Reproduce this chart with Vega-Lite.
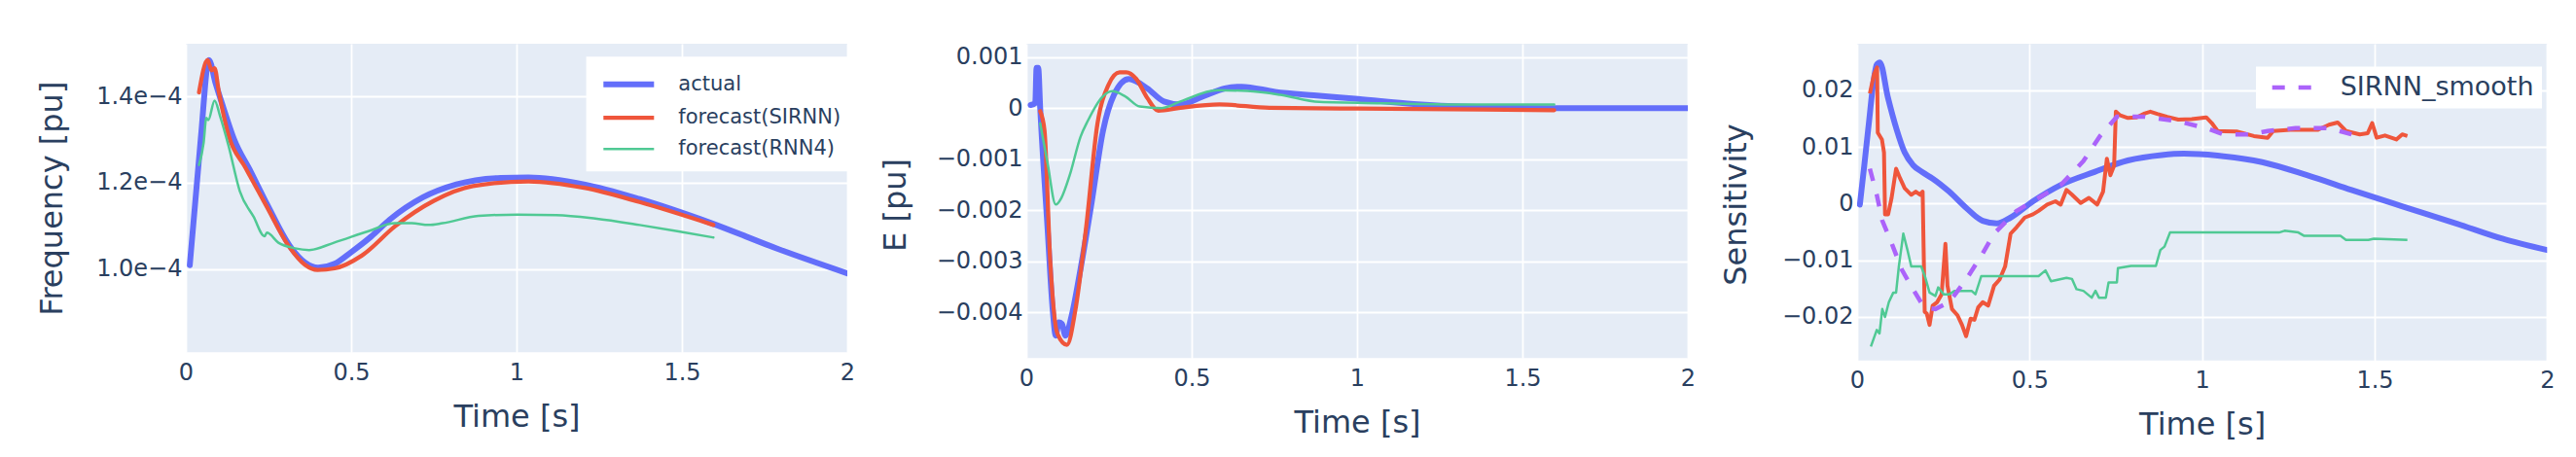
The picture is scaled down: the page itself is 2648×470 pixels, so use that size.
{
  "$schema": "https://vega.github.io/schema/vega-lite/v6.json",
  "padding": {"left": 37, "top": 45, "right": 5, "bottom": 5},
  "spacing": 25,
  "bounds": "full",
  "datasets": {
    "p1": [
      {"t":0.012,"v":1.009e-4,"s":"actual"},{"t":0.045,"v":1.30e-4,"s":"actual"},{"t":0.07,"v":1.484e-4,"s":"actual"},{"t":0.09,"v":1.43e-4,"s":"actual"},{"t":0.113,"v":1.375e-4,"s":"actual"},{"t":0.146,"v":1.30e-4,"s":"actual"},{"t":0.196,"v":1.226e-4,"s":"actual"},{"t":0.247,"v":1.148e-4,"s":"actual"},{"t":0.314,"v":1.054e-4,"s":"actual"},{"t":0.36,"v":1.015e-4,"s":"actual"},{"t":0.4,"v":1.003e-4,"s":"actual"},{"t":0.45,"v":1.012e-4,"s":"actual"},{"t":0.5,"v":1.039e-4,"s":"actual"},{"t":0.56,"v":1.075e-4,"s":"actual"},{"t":0.616,"v":1.114e-4,"s":"actual"},{"t":0.717,"v":1.166e-4,"s":"actual"},{"t":0.818,"v":1.196e-4,"s":"actual"},{"t":0.952,"v":1.211e-4,"s":"actual"},{"t":1.036,"v":1.212e-4,"s":"actual"},{"t":1.204,"v":1.196e-4,"s":"actual"},{"t":1.372,"v":1.162e-4,"s":"actual"},{"t":1.59,"v":1.106e-4,"s":"actual"},{"t":1.792,"v":1.046e-4,"s":"actual"},{"t":2.0,"v":0.99e-4,"s":"actual"},
      {"t":0.04,"v":1.409e-4,"s":"forecast(SIRNN)"},{"t":0.066,"v":1.484e-4,"s":"forecast(SIRNN)"},{"t":0.078,"v":1.46e-4,"s":"forecast(SIRNN)"},{"t":0.087,"v":1.465e-4,"s":"forecast(SIRNN)"},{"t":0.1,"v":1.41e-4,"s":"forecast(SIRNN)"},{"t":0.13,"v":1.308e-4,"s":"forecast(SIRNN)"},{"t":0.18,"v":1.235e-4,"s":"forecast(SIRNN)"},{"t":0.243,"v":1.147e-4,"s":"forecast(SIRNN)"},{"t":0.314,"v":1.05e-4,"s":"forecast(SIRNN)"},{"t":0.36,"v":1.01e-4,"s":"forecast(SIRNN)"},{"t":0.398,"v":0.998e-4,"s":"forecast(SIRNN)"},{"t":0.45,"v":1.0015e-4,"s":"forecast(SIRNN)"},{"t":0.532,"v":1.031e-4,"s":"forecast(SIRNN)"},{"t":0.633,"v":1.099e-4,"s":"forecast(SIRNN)"},{"t":0.75,"v":1.158e-4,"s":"forecast(SIRNN)"},{"t":0.868,"v":1.192e-4,"s":"forecast(SIRNN)"},{"t":1.036,"v":1.203e-4,"s":"forecast(SIRNN)"},{"t":1.204,"v":1.188e-4,"s":"forecast(SIRNN)"},{"t":1.372,"v":1.155e-4,"s":"forecast(SIRNN)"},{"t":1.595,"v":1.102e-4,"s":"forecast(SIRNN)"},
      {"t":0.04,"v":1.241e-4,"s":"forecast(RNN4)"},{"t":0.054,"v":1.293e-4,"s":"forecast(RNN4)"},{"t":0.062,"v":1.35e-4,"s":"forecast(RNN4)"},{"t":0.068,"v":1.345e-4,"s":"forecast(RNN4)"},{"t":0.087,"v":1.39e-4,"s":"forecast(RNN4)"},{"t":0.104,"v":1.353e-4,"s":"forecast(RNN4)"},{"t":0.129,"v":1.286e-4,"s":"forecast(RNN4)"},{"t":0.163,"v":1.181e-4,"s":"forecast(RNN4)"},{"t":0.205,"v":1.121e-4,"s":"forecast(RNN4)"},{"t":0.238,"v":1.076e-4,"s":"forecast(RNN4)"},{"t":0.245,"v":1.084e-4,"s":"forecast(RNN4)"},{"t":0.28,"v":1.061e-4,"s":"forecast(RNN4)"},{"t":0.33,"v":1.048e-4,"s":"forecast(RNN4)"},{"t":0.373,"v":1.044e-4,"s":"forecast(RNN4)"},{"t":0.448,"v":1.061e-4,"s":"forecast(RNN4)"},{"t":0.55,"v":1.087e-4,"s":"forecast(RNN4)"},{"t":0.633,"v":1.106e-4,"s":"forecast(RNN4)"},{"t":0.683,"v":1.106e-4,"s":"forecast(RNN4)"},{"t":0.734,"v":1.102e-4,"s":"forecast(RNN4)"},{"t":0.776,"v":1.106e-4,"s":"forecast(RNN4)"},{"t":0.885,"v":1.123e-4,"s":"forecast(RNN4)"},{"t":1.003,"v":1.126e-4,"s":"forecast(RNN4)"},{"t":1.12,"v":1.125e-4,"s":"forecast(RNN4)"},{"t":1.238,"v":1.117e-4,"s":"forecast(RNN4)"},{"t":1.372,"v":1.102e-4,"s":"forecast(RNN4)"},{"t":1.49,"v":1.087e-4,"s":"forecast(RNN4)"},{"t":1.595,"v":1.073e-4,"s":"forecast(RNN4)"}
    ],
    "p2": [
      {"t":0.013,"v":0.00006,"s":"actual"},{"t":0.027,"v":0.0001,"s":"actual"},{"t":0.031,"v":0.00079,"s":"actual"},{"t":0.036,"v":0.00079,"s":"actual"},{"t":0.042,"v":0.0,"s":"actual"},{"t":0.064,"v":-0.00233,"s":"actual"},{"t":0.08,"v":-0.00397,"s":"actual"},{"t":0.089,"v":-0.00446,"s":"actual"},{"t":0.098,"v":-0.0042,"s":"actual"},{"t":0.108,"v":-0.00423,"s":"actual"},{"t":0.118,"v":-0.00446,"s":"actual"},{"t":0.137,"v":-0.00407,"s":"actual"},{"t":0.164,"v":-0.00315,"s":"actual"},{"t":0.198,"v":-0.00183,"s":"actual"},{"t":0.232,"v":-0.00044,"s":"actual"},{"t":0.265,"v":0.00026,"s":"actual"},{"t":0.31,"v":0.00057,"s":"actual"},{"t":0.366,"v":0.000385,"s":"actual"},{"t":0.416,"v":0.00013,"s":"actual"},{"t":0.466,"v":0.00007,"s":"actual"},{"t":0.534,"v":0.00023,"s":"actual"},{"t":0.6,"v":0.000385,"s":"actual"},{"t":0.651,"v":0.00042,"s":"actual"},{"t":0.752,"v":0.00032,"s":"actual"},{"t":0.869,"v":0.00025,"s":"actual"},{"t":1.003,"v":0.00018,"s":"actual"},{"t":1.171,"v":0.00008,"s":"actual"},{"t":1.339,"v":0.000025,"s":"actual"},{"t":1.59,"v":0.0,"s":"actual"},{"t":2.0,"v":0.0,"s":"actual"},
      {"t":0.042,"v":-0.00006,"s":"forecast(SIRNN)"},{"t":0.055,"v":-0.00044,"s":"forecast(SIRNN)"},{"t":0.072,"v":-0.00296,"s":"forecast(SIRNN)"},{"t":0.094,"v":-0.00442,"s":"forecast(SIRNN)"},{"t":0.123,"v":-0.00464,"s":"forecast(SIRNN)"},{"t":0.148,"v":-0.00397,"s":"forecast(SIRNN)"},{"t":0.181,"v":-0.00233,"s":"forecast(SIRNN)"},{"t":0.215,"v":-0.00031,"s":"forecast(SIRNN)"},{"t":0.248,"v":0.00045,"s":"forecast(SIRNN)"},{"t":0.282,"v":0.0007,"s":"forecast(SIRNN)"},{"t":0.302,"v":0.0007,"s":"forecast(SIRNN)"},{"t":0.332,"v":0.000575,"s":"forecast(SIRNN)"},{"t":0.366,"v":0.000196,"s":"forecast(SIRNN)"},{"t":0.399,"v":-0.00005,"s":"forecast(SIRNN)"},{"t":0.466,"v":0.000006,"s":"forecast(SIRNN)"},{"t":0.584,"v":0.00007,"s":"forecast(SIRNN)"},{"t":0.735,"v":0.000006,"s":"forecast(SIRNN)"},{"t":1.003,"v":-0.00001,"s":"forecast(SIRNN)"},{"t":1.596,"v":-0.00004,"s":"forecast(SIRNN)"},
      {"t":0.042,"v":-0.0003,"s":"forecast(RNN4)"},{"t":0.064,"v":-0.00107,"s":"forecast(RNN4)"},{"t":0.089,"v":-0.00189,"s":"forecast(RNN4)"},{"t":0.106,"v":-0.00176,"s":"forecast(RNN4)"},{"t":0.131,"v":-0.00132,"s":"forecast(RNN4)"},{"t":0.164,"v":-0.00056,"s":"forecast(RNN4)"},{"t":0.186,"v":-0.00025,"s":"forecast(RNN4)"},{"t":0.23,"v":0.00022,"s":"forecast(RNN4)"},{"t":0.26,"v":0.00033,"s":"forecast(RNN4)"},{"t":0.299,"v":0.00023,"s":"forecast(RNN4)"},{"t":0.343,"v":0.00003,"s":"forecast(RNN4)"},{"t":0.41,"v":0.0,"s":"forecast(RNN4)"},{"t":0.466,"v":0.00013,"s":"forecast(RNN4)"},{"t":0.578,"v":0.00035,"s":"forecast(RNN4)"},{"t":0.668,"v":0.000335,"s":"forecast(RNN4)"},{"t":0.768,"v":0.00026,"s":"forecast(RNN4)"},{"t":0.886,"v":0.00012,"s":"forecast(RNN4)"},{"t":1.087,"v":0.000095,"s":"forecast(RNN4)"},{"t":1.339,"v":0.00007,"s":"forecast(RNN4)"},{"t":1.596,"v":0.00007,"s":"forecast(RNN4)"}
    ],
    "p3a": [
      {"t":0.008,"v":-0.0002},{"t":0.021,"v":0.0068},{"t":0.032,"v":0.013},{"t":0.057,"v":0.0245},{"t":0.066,"v":0.0249},{"t":0.089,"v":0.0188},{"t":0.115,"v":0.013},{"t":0.138,"v":0.009},{"t":0.162,"v":0.0068},{"t":0.19,"v":0.0055},{"t":0.219,"v":0.0044},{"t":0.267,"v":0.0021},{"t":0.316,"v":-0.00075},{"t":0.364,"v":-0.00305},{"t":0.405,"v":-0.0035},{"t":0.445,"v":-0.00247},{"t":0.51,"v":0.0004},{"t":0.591,"v":0.0033},{"t":0.688,"v":0.00557},{"t":0.785,"v":0.0076},{"t":0.883,"v":0.00856},{"t":0.947,"v":0.00879},{"t":1.045,"v":0.00845},{"t":1.174,"v":0.0073},{"t":1.304,"v":0.005},{"t":1.433,"v":0.0024},{"t":1.579,"v":-0.00046},{"t":1.741,"v":-0.0036},{"t":1.87,"v":-0.0062},{"t":2.0,"v":-0.0082}
    ],
    "p3s": [
      {"t":0.037,"v":0.0194},{"t":0.049,"v":0.0228},{"t":0.058,"v":0.024},{"t":0.06,"v":0.0125},{"t":0.072,"v":0.0113},{"t":0.078,"v":0.009},{"t":0.081,"v":-0.0019},{"t":0.09,"v":-0.0019},{"t":0.1,"v":0.001},{"t":0.113,"v":0.00615},{"t":0.125,"v":0.0044},{"t":0.138,"v":0.0027},{"t":0.157,"v":0.00155},{"t":0.17,"v":0.0021},{"t":0.183,"v":0.00155},{"t":0.19,"v":0.0021},{"t":0.196,"v":-0.0191},{"t":0.202,"v":-0.0194},{"t":0.21,"v":-0.0214},{"t":0.219,"v":-0.018},{"t":0.232,"v":-0.0174},{"t":0.245,"v":-0.016},{"t":0.256,"v":-0.0071},{"t":0.262,"v":-0.0145},{"t":0.275,"v":-0.0186},{"t":0.291,"v":-0.0197},{"t":0.304,"v":-0.0214},{"t":0.316,"v":-0.0234},{"t":0.329,"v":-0.0203},{"t":0.34,"v":-0.0205},{"t":0.351,"v":-0.0183},{"t":0.364,"v":-0.0174},{"t":0.38,"v":-0.018},{"t":0.397,"v":-0.0145},{"t":0.413,"v":-0.0134},{"t":0.429,"v":-0.0111},{"t":0.445,"v":-0.0053},{"t":0.462,"v":-0.0042},{"t":0.486,"v":-0.00247},{"t":0.51,"v":-0.0019},{"t":0.526,"v":-0.0013},{"t":0.551,"v":-0.00017},{"t":0.575,"v":0.0004},{"t":0.59,"v":-0.0002},{"t":0.607,"v":0.0024},{"t":0.623,"v":0.00155},{"t":0.648,"v":0.0001},{"t":0.672,"v":0.001},{"t":0.696,"v":-0.00017},{"t":0.713,"v":0.0021},{"t":0.724,"v":0.0079},{"t":0.734,"v":0.005},{"t":0.745,"v":0.0067},{"t":0.75,"v":0.0162},{"t":0.761,"v":0.0156},{"t":0.785,"v":0.0151},{"t":0.81,"v":0.0152},{"t":0.834,"v":0.0159},{"t":0.85,"v":0.0162},{"t":0.87,"v":0.0158},{"t":0.899,"v":0.0153},{"t":0.931,"v":0.0148},{"t":0.97,"v":0.0149},{"t":1.012,"v":0.0152},{"t":1.028,"v":0.0142},{"t":1.045,"v":0.0128},{"t":1.1,"v":0.0127},{"t":1.15,"v":0.0119},{"t":1.19,"v":0.0116},{"t":1.206,"v":0.0128},{"t":1.255,"v":0.013},{"t":1.336,"v":0.013},{"t":1.368,"v":0.0139},{"t":1.393,"v":0.0143},{"t":1.417,"v":0.0128},{"t":1.457,"v":0.0122},{"t":1.48,"v":0.0124},{"t":1.493,"v":0.0142},{"t":1.506,"v":0.0116},{"t":1.53,"v":0.012},{"t":1.563,"v":0.0113},{"t":1.58,"v":0.0122},{"t":1.595,"v":0.0119}
    ],
    "p3r": [
      {"t":0.04,"v":-0.0252},{"t":0.057,"v":-0.0223},{"t":0.065,"v":-0.0229},{"t":0.073,"v":-0.0186},{"t":0.081,"v":-0.02},{"t":0.092,"v":-0.0174},{"t":0.105,"v":-0.0157},{"t":0.113,"v":-0.0157},{"t":0.121,"v":-0.0111},{"t":0.134,"v":-0.0053},{"t":0.146,"v":-0.0082},{"t":0.157,"v":-0.0111},{"t":0.186,"v":-0.0111},{"t":0.198,"v":-0.0131},{"t":0.21,"v":-0.0157},{"t":0.227,"v":-0.0163},{"t":0.235,"v":-0.0148},{"t":0.251,"v":-0.016},{"t":0.267,"v":-0.016},{"t":0.283,"v":-0.0154},{"t":0.332,"v":-0.0154},{"t":0.343,"v":-0.016},{"t":0.36,"v":-0.0128},{"t":0.526,"v":-0.0128},{"t":0.546,"v":-0.0118},{"t":0.562,"v":-0.0137},{"t":0.607,"v":-0.0131},{"t":0.623,"v":-0.0133},{"t":0.636,"v":-0.0151},{"t":0.656,"v":-0.0154},{"t":0.68,"v":-0.0166},{"t":0.691,"v":-0.0154},{"t":0.701,"v":-0.0166},{"t":0.721,"v":-0.0166},{"t":0.729,"v":-0.0139},{"t":0.753,"v":-0.0139},{"t":0.756,"v":-0.0114},{"t":0.794,"v":-0.011},{"t":0.866,"v":-0.011},{"t":0.879,"v":-0.0082},{"t":0.891,"v":-0.0076},{"t":0.907,"v":-0.0051},{"t":1.223,"v":-0.0051},{"t":1.239,"v":-0.0048},{"t":1.279,"v":-0.0051},{"t":1.296,"v":-0.0057},{"t":1.401,"v":-0.0057},{"t":1.417,"v":-0.0064},{"t":1.482,"v":-0.0064},{"t":1.498,"v":-0.0062},{"t":1.595,"v":-0.0064}
    ],
    "p3m": [
      {"t":0.037,"v":0.00615,"s":"SIRNN_smooth"},{"t":0.057,"v":0.00155,"s":"SIRNN_smooth"},{"t":0.073,"v":-0.003,"s":"SIRNN_smooth"},{"t":0.097,"v":-0.0065,"s":"SIRNN_smooth"},{"t":0.13,"v":-0.0117,"s":"SIRNN_smooth"},{"t":0.162,"v":-0.0151,"s":"SIRNN_smooth"},{"t":0.194,"v":-0.0183,"s":"SIRNN_smooth"},{"t":0.227,"v":-0.0186,"s":"SIRNN_smooth"},{"t":0.267,"v":-0.0174,"s":"SIRNN_smooth"},{"t":0.316,"v":-0.0134,"s":"SIRNN_smooth"},{"t":0.364,"v":-0.0088,"s":"SIRNN_smooth"},{"t":0.397,"v":-0.0053,"s":"SIRNN_smooth"},{"t":0.462,"v":-0.0013,"s":"SIRNN_smooth"},{"t":0.526,"v":0.001,"s":"SIRNN_smooth"},{"t":0.591,"v":0.0033,"s":"SIRNN_smooth"},{"t":0.656,"v":0.0075,"s":"SIRNN_smooth"},{"t":0.704,"v":0.0119,"s":"SIRNN_smooth"},{"t":0.753,"v":0.0153,"s":"SIRNN_smooth"},{"t":0.834,"v":0.0153,"s":"SIRNN_smooth"},{"t":0.931,"v":0.0145,"s":"SIRNN_smooth"},{"t":1.012,"v":0.0133,"s":"SIRNN_smooth"},{"t":1.061,"v":0.0122,"s":"SIRNN_smooth"},{"t":1.142,"v":0.0122,"s":"SIRNN_smooth"},{"t":1.19,"v":0.0128,"s":"SIRNN_smooth"},{"t":1.271,"v":0.0133,"s":"SIRNN_smooth"},{"t":1.368,"v":0.0133,"s":"SIRNN_smooth"},{"t":1.433,"v":0.0122,"s":"SIRNN_smooth"}
    ]
  },
  "resolve": {"scale": {"color": "independent", "strokeWidth": "independent", "x": "independent", "y": "independent"}},
  "hconcat": [
    {
      "width": 680,
      "height": 317.3,
      "data": {"name": "p1"},
      "mark": {"type": "line", "interpolate": "monotone", "clip": true, "strokeJoin": "round", "strokeCap": "round"},
      "encoding": {
        "x": {"field": "t", "type": "quantitative", "scale": {"domain": [0, 2], "nice": false, "zero": false}, "axis": {"values": [0, 0.5, 1, 1.5, 2], "format": "~g", "title": "Time [s]"}},
        "y": {"field": "v", "type": "quantitative", "scale": {"domain": [0.8072e-4, 1.5216e-4], "nice": false, "zero": false}, "axis": {"values": [0.0001, 0.00012, 0.00014], "labelExpr": "format(datum.value*10000, '.1f') + 'e−4'", "title": "Frequency [pu]", "titleX": -127.7, "titleY": 158.65}},
        "color": {"field": "s", "type": "nominal", "scale": {"domain": ["actual", "forecast(SIRNN)", "forecast(RNN4)"], "range": ["#636efa", "#EF553B", "#50c994"]},
          "legend": {"orient": "none", "legendX": 411.6, "legendY": 13.3, "title": null, "fillColor": "white", "padding": 12.4, "symbolType": "M-2,0H2", "symbolSize": 676, "symbolOffset": 15.3, "labelFontSize": 21, "labelFont": "DejaVu Sans", "labelColor": "#2a3f5f", "labelLimit": 0, "rowPadding": 7, "labelOffset": 35, "symbolOpacity": 1}},
        "strokeWidth": {"field": "s", "type": "nominal", "scale": {"domain": ["actual", "forecast(SIRNN)", "forecast(RNN4)"], "range": [6, 2.5]}},
        "order": {"field": "t", "type": "quantitative"}
      }
    },
    {
      "width": 680,
      "height": 323.3,
      "data": {"name": "p2"},
      "mark": {"type": "line", "interpolate": "monotone", "clip": true, "strokeJoin": "round", "strokeCap": "round"},
      "encoding": {
        "x": {"field": "t", "type": "quantitative", "scale": {"domain": [0, 2], "nice": false, "zero": false}, "axis": {"values": [0, 0.5, 1, 1.5, 2], "format": "~g", "title": "Time [s]"}},
        "y": {"field": "v", "type": "quantitative", "scale": {"domain": [-0.0049, 0.001261], "nice": false, "zero": false}, "axis": {"values": [0.001, 0, -0.001, -0.002, -0.003, -0.004], "format": "~g", "title": "E [pu]", "titleX": -124.7, "titleY": 165.5}},
        "color": {"field": "s", "type": "nominal", "scale": {"domain": ["actual", "forecast(SIRNN)", "forecast(RNN4)"], "range": ["#636efa", "#EF553B", "#50c994"]}, "legend": null},
        "strokeWidth": {"field": "s", "type": "nominal", "scale": {"domain": ["actual", "forecast(SIRNN)", "forecast(RNN4)"], "range": [6, 2.5]}, "legend": null},
        "order": {"field": "t", "type": "quantitative"}
      }
    },
    {
      "width": 709.3,
      "height": 325.7,
      "encoding": {
        "x": {"field": "t", "type": "quantitative", "scale": {"domain": [0, 2], "nice": false, "zero": false}, "axis": {"values": [0, 0.5, 1, 1.5, 2], "format": "~g", "title": "Time [s]"}},
        "y": {"field": "v", "type": "quantitative", "scale": {"domain": [-0.02767, 0.02818], "nice": false, "zero": false}, "axis": {"values": [0.02, 0.01, 0, -0.01, -0.02], "format": "~g", "title": "Sensitivity", "titleX": -114.8, "titleY": 165}}
      },
      "layer": [
        {"data": {"name": "p3a"}, "mark": {"type": "line", "interpolate": "monotone", "clip": true, "color": "#636efa", "strokeWidth": 6, "strokeJoin": "round", "strokeCap": "round"}},
        {"data": {"name": "p3s"}, "mark": {"type": "line", "clip": true, "color": "#EF553B", "strokeWidth": 4, "strokeJoin": "round"}},
        {"data": {"name": "p3r"}, "mark": {"type": "line", "clip": true, "color": "#50c994", "strokeWidth": 2.5, "strokeJoin": "round"}},
        {"data": {"name": "p3m"}, "mark": {"type": "line", "clip": true, "strokeWidth": 4.5, "strokeDash": [13, 14]},
          "encoding": {"color": {"field": "s", "type": "nominal", "scale": {"domain": ["SIRNN_smooth"], "range": ["#ab63fa"]},
            "legend": {"orient": "none", "legendX": 410, "legendY": 23.5, "title": null, "fillColor": "white", "padding": 8, "symbolType": "M-2,0H2", "symbolSize": 420.25, "symbolDash": [13, 14], "symbolStrokeWidth": 4.5, "symbolOffset": 15.7, "labelFontSize": 27, "labelFont": "DejaVu Sans", "labelColor": "#2a3f5f", "labelLimit": 0, "labelOffset": 36, "symbolOpacity": 1}}}}
      ]
    }
  ],
  "config": {
    "view": {"fill": "#E5ECF6", "stroke": null},
    "axis": {"domain": false, "ticks": false, "tickSize": 0, "grid": true, "gridColor": "white", "gridWidth": 1.8, "labelFont": "DejaVu Sans", "labelFontSize": 24, "labelColor": "#2a3f5f", "titleFont": "DejaVu Sans", "titleFontSize": 32, "titleFontWeight": "normal", "titleColor": "#2a3f5f"},
    "axisX": {"labelFlush": false, "labelPadding": 9, "labelOverlap": false, "titleBaseline": "alphabetic", "titleY": 76},
    "axisY": {"labelPadding": 4, "titleAngle": -90, "titleBaseline": "alphabetic", "titleAlign": "center", "labelOverlap": false}
  }
}
